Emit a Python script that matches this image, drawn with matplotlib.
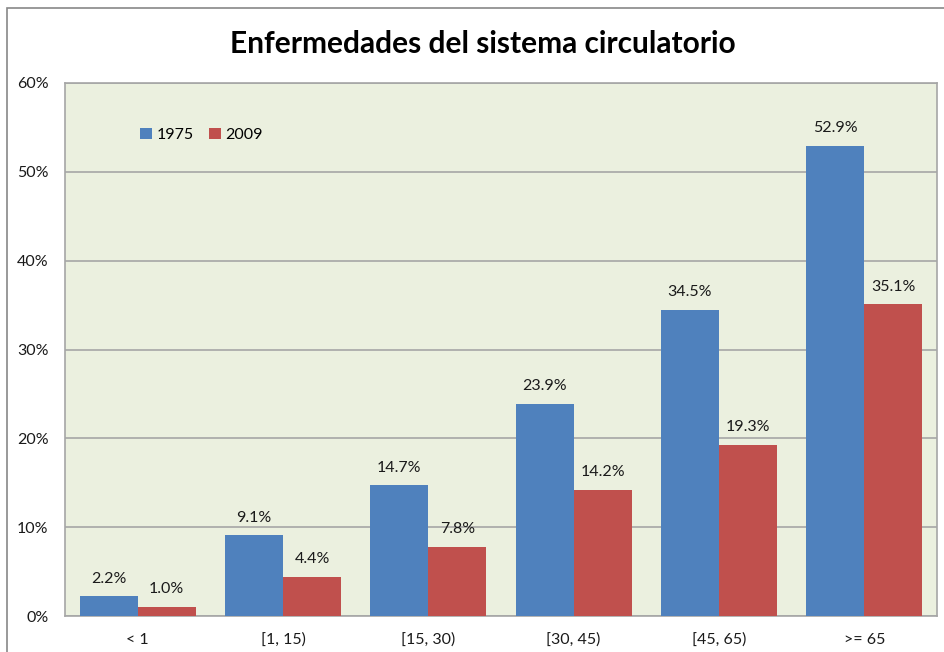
import numpy as np
import matplotlib
matplotlib.use("Agg")
import matplotlib.pyplot as plt
from matplotlib.patches import Rectangle
from matplotlib.ticker import FuncFormatter

plt.rcParams['font.family'] = ['Lato', 'DejaVu Sans']

# data
categories = ['< 1', '[1, 15)', '[15, 30)', '[30, 45)', '[45, 65)', '>= 65']
series_names = ['1975', '2009']
values_1975 = [2.2, 9.1, 14.7, 23.9, 34.5, 52.9]
values_2009 = [1.0, 4.4, 7.8, 14.2, 19.3, 35.1]

blue = '#4F81BD'
red = '#C0504D'
grid_col = '#A6A6A6'

fig = plt.figure(figsize=(9.44, 6.52), dpi=100)
ax = fig.add_axes([65 / 944, 1 - 616 / 652, 872 / 944, 533 / 652])
ax.set_facecolor('#EBF0DF')

# outer chart border (cut off right / bottom in the reference)
fig.patches.append(Rectangle((7 / 944, -0.1), 1.2, 1 - 8 / 652 + 0.1, transform=fig.transFigure,
                             fill=False, edgecolor='#888888', linewidth=1.2))

x = np.arange(len(categories))
w = 0.4
b1 = ax.bar(x - w / 2, values_1975, w, color=blue, label=series_names[0], zorder=3)
b2 = ax.bar(x + w / 2, values_2009, w, color=red, label=series_names[1], zorder=3)

for bars, vals in [(b1, values_1975), (b2, values_2009)]:
    for rect, v in zip(bars, vals):
        ax.text(rect.get_x() + rect.get_width() / 2, v + 1.2, f'{v:.1f}%',
                ha='center', va='bottom', fontsize=11.5, color='#1a1a1a')

ax.set_xlim(-0.5, len(categories) - 0.5)
ax.set_ylim(0, 60)
ax.set_yticks(np.arange(0, 61, 10))
ax.yaxis.set_major_formatter(FuncFormatter(lambda v, p: f'{int(v)}%'))
ax.set_xticks(x)
ax.set_xticklabels(categories)
ax.tick_params(axis='both', length=0, labelsize=11.5, colors='#1a1a1a')
ax.tick_params(axis='x', pad=12)
ax.tick_params(axis='y', pad=12)
ax.grid(axis='y', color=grid_col, linewidth=1.2, zorder=0)

for s in ['top', 'right', 'left', 'bottom']:
    ax.spines[s].set_color(grid_col)
    ax.spines[s].set_linewidth(1.2)

ax.legend(loc='upper left', bbox_to_anchor=(0.07, 0.943), ncol=2, frameon=False,
          fontsize=11.5, handlelength=0.7, handleheight=0.7, handletextpad=0.3,
          columnspacing=1.0)

fig.text(483 / 944, 1 - 44 / 652, 'Enfermedades del sistema circulatorio',
         ha='center', va='center', fontsize=21.5, fontweight='bold')

fig.savefig('out.png', dpi=100)
